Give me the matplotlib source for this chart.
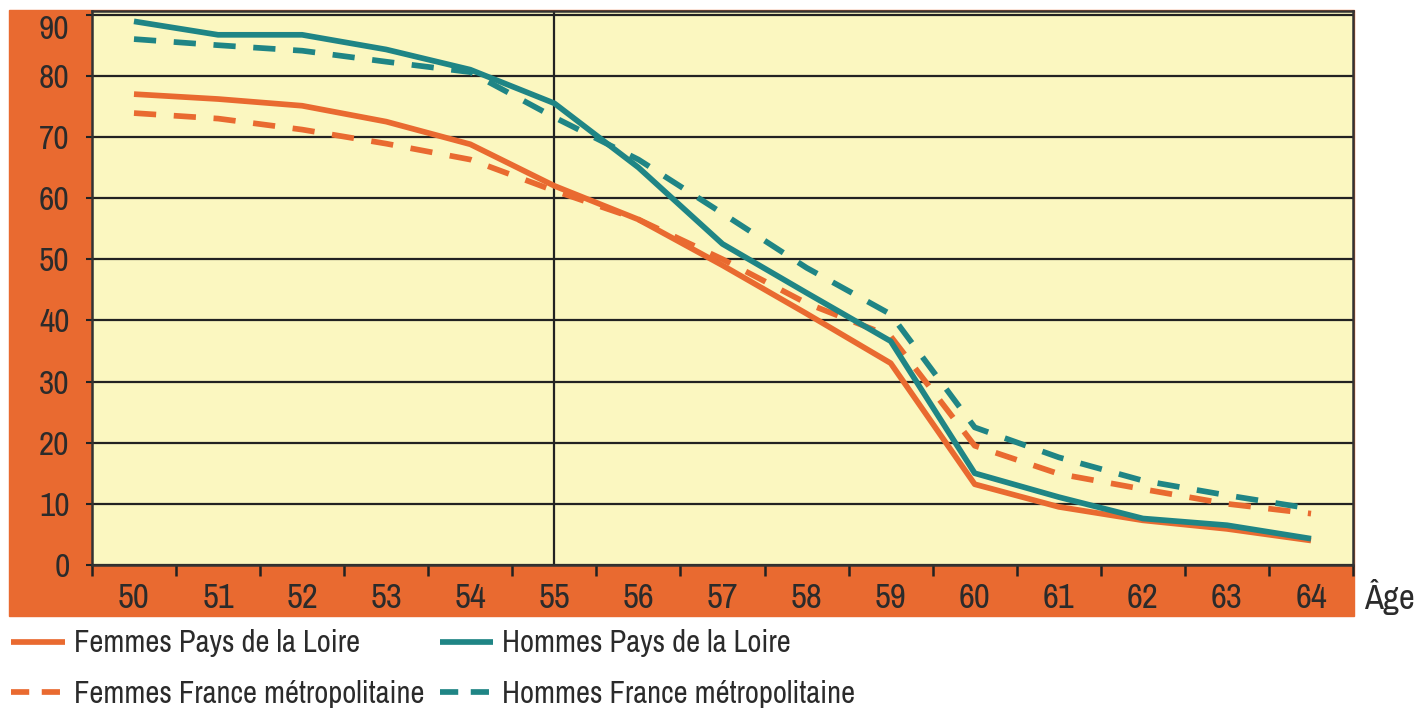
import numpy as np
import matplotlib.pyplot as plt
from matplotlib.patches import Rectangle
from matplotlib.lines import Line2D

plt.rcParams['font.family'] = ['Archivo Narrow', 'DejaVu Sans']

ORANGE = '#E96A30'
YELLOW = '#FBF7C0'
TEAL = '#1F8585'
TEXT = '#2b2b2b'

ages = ['50', '51', '52', '53', '54', '55', '56', '57', '58', '59', '60', '61', '62', '63', '64']
femmes_pdl = [77.0, 76.2, 75.1, 72.5, 68.8, 62.0, 56.5, 49.0, 41.1, 33.0, 13.2, 9.5, 7.3, 5.9, 4.0]
hommes_pdl = [88.9, 86.7, 86.7, 84.3, 81.0, 75.5, 65.0, 52.5, 44.5, 36.6, 15.0, 11.1, 7.6, 6.5, 4.3]
femmes_fr = [73.9, 73.0, 71.2, 68.9, 66.3, 61.2, 56.5, 50.0, 42.8, 37.4, 19.5, 14.9, 12.4, 10.0, 8.4]
hommes_fr = [86.0, 85.0, 84.1, 82.3, 80.6, 73.2, 66.3, 57.5, 48.6, 41.0, 22.5, 17.6, 13.8, 11.4, 9.2]
yticks = [0, 10, 20, 30, 40, 50, 60, 70, 80, 90]

LW = 4.1
DASH = (3.9, 3.1)

fig = plt.figure(figsize=(14.21, 7.12), dpi=100)

# orange frame behind the plot
fig.patches.append(Rectangle((0.0063, 0.1348), 0.9465, 0.8512,
                             transform=fig.transFigure, color=ORANGE, zorder=-5))

ax = fig.add_axes([0.0647, 0.2065, 0.8875, 0.7781])
ax.set_facecolor(YELLOW)

x = np.arange(len(ages))
ax.plot(x, femmes_fr, color=ORANGE, lw=LW, dashes=DASH, dash_capstyle='butt', zorder=3)
ax.plot(x, femmes_pdl, color=ORANGE, lw=LW, solid_capstyle='butt', zorder=3)
ax.plot(x, hommes_fr, color=TEAL, lw=LW, dashes=DASH, dash_capstyle='butt', zorder=4)
ax.plot(x, hommes_pdl, color=TEAL, lw=LW, solid_capstyle='butt', zorder=4)

ax.set_xlim(-0.5, len(ages) - 0.5)
ax.set_ylim(0, 90.6)

ax.set_yticks(yticks)
ax.set_yticklabels([str(v) for v in yticks])
ax.yaxis.grid(True, color='#222222', lw=1.6, zorder=1)
ax.set_axisbelow(True)
ax.axvline(5, color='#222222', lw=1.6, zorder=1)
ax.tick_params(axis='y', direction='out', length=4, width=1.5, color='#222222',
               labelsize=24, labelcolor=TEXT, pad=12)
ax.get_yticklabels()[-1].set_verticalalignment('top')

ax.set_xticks(x)
ax.set_xticklabels(ages)
ax.set_xticks(np.arange(-0.5, len(ages)), minor=True)
ax.tick_params(axis='x', which='major', length=0, labelsize=25, labelcolor=TEXT, pad=12)
ax.tick_params(axis='x', which='minor', direction='out', length=8, width=1.8, color='#222222')

for s in ax.spines.values():
    s.set_color('#333333')
    s.set_linewidth(1.8)

fig.text(0.960, 0.162, 'Âge', fontsize=25, color=TEXT, va='center', ha='left')

handles = [
    Line2D([], [], color=ORANGE, lw=LW, solid_capstyle='butt'),
    Line2D([], [], color=ORANGE, lw=LW, dashes=(3.2, 2.2), dash_capstyle='butt'),
    Line2D([], [], color=TEAL, lw=LW, solid_capstyle='butt'),
    Line2D([], [], color=TEAL, lw=LW, dashes=(3.2, 2.2), dash_capstyle='butt'),
]
labels = ['Femmes Pays de la Loire', 'Femmes France métropolitaine',
          'Hommes Pays de la Loire', 'Hommes France métropolitaine']
leg = fig.legend(handles, labels, ncol=2, loc='upper left', bbox_to_anchor=(0.008, 0.116),
                 frameon=False, fontsize=22, handlelength=1.75, handletextpad=0.3,
                 columnspacing=0.5, labelspacing=0.74, borderaxespad=0, borderpad=0)
for t in leg.get_texts():
    t.set_color(TEXT)

fig.savefig('out.png', dpi=100)
